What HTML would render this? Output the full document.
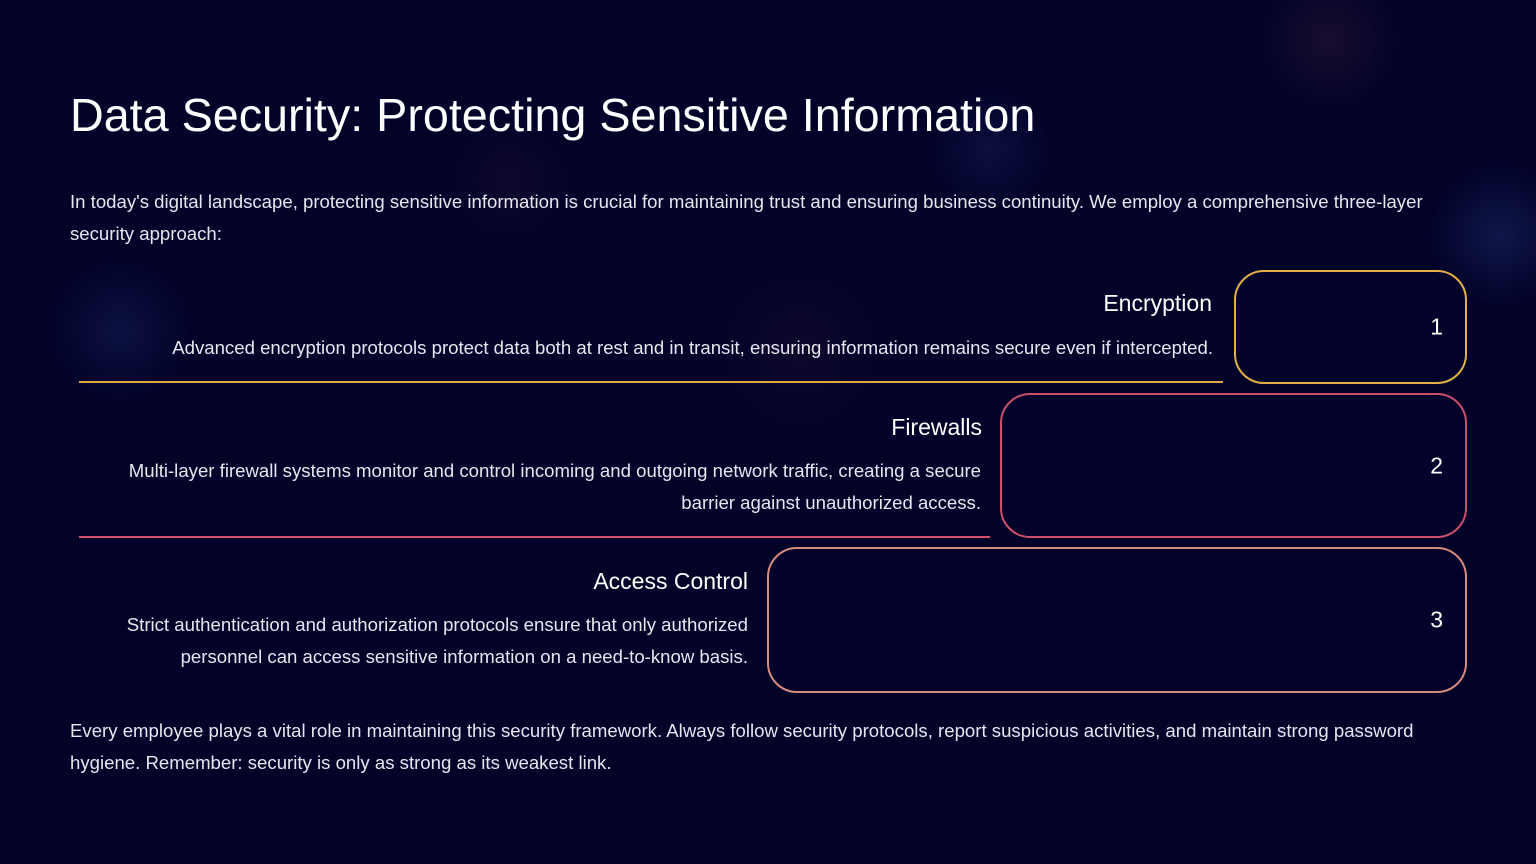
<!DOCTYPE html>
<html><head><meta charset="utf-8"><style>
html,body{margin:0;padding:0}
body{width:1536px;height:864px;position:relative;overflow:hidden;background:#03032a;
background-image:radial-gradient(circle at 990px 150px,rgba(40,50,120,.25),transparent 60px),radial-gradient(circle at 1500px 235px,rgba(40,60,130,.35),transparent 70px),radial-gradient(circle at 120px 330px,rgba(40,60,130,.25),transparent 70px),radial-gradient(circle at 1330px 40px,rgba(120,60,60,.18),transparent 70px),radial-gradient(circle at 800px 350px,rgba(100,40,60,.12),transparent 80px),radial-gradient(circle at 510px 180px,rgba(100,40,60,.12),transparent 60px);
font-family:"Liberation Sans",sans-serif;color:#fff}
.a{position:absolute;white-space:nowrap}
h1{position:absolute;left:70px;top:88px;margin:0;font-weight:normal;font-size:46.7px}
.p{font-size:18.6px;line-height:32px;color:#e6e6f0;letter-spacing:0}
.t{font-size:23px;text-align:right}
.d{font-size:18.6px;line-height:32px;text-align:right;color:#e6e6f0}
.box{position:absolute;box-sizing:border-box;border:2px solid;border-radius:30px;background:#02022a}
.n{position:absolute;right:22px;top:50%;transform:translateY(-50%);font-size:23px}
.ln{position:absolute;height:2px}
</style></head><body>
<h1>Data Security: Protecting Sensitive Information</h1>
<div class="a p" style="left:70px;top:186px">In today's digital landscape, protecting sensitive information is crucial for maintaining trust and ensuring business continuity. We employ a comprehensive three-layer<br>security approach:</div>

<div class="a t" style="right:324px;top:290px">Encryption</div>
<div class="a d" style="right:323px;top:332px">Advanced encryption protocols protect data both at rest and in transit, ensuring information remains secure even if intercepted.</div>
<div class="ln" style="left:79px;top:381px;width:1144px;background:#e0a840;height:1.5px"></div>
<div class="box" style="left:1234px;top:270px;width:233px;height:114px;border-color:#e2b045"><div class="n">1</div></div>

<div class="a t" style="right:554px;top:414px">Firewalls</div>
<div class="a d" style="right:555px;top:455px">Multi-layer firewall systems monitor and control incoming and outgoing network traffic, creating a secure<br>barrier against unauthorized access.</div>
<div class="ln" style="left:79px;top:536px;width:911px;background:#d4506e"></div>
<div class="box" style="left:1000px;top:393px;width:467px;height:145px;border-color:#cc4f6c"><div class="n">2</div></div>

<div class="a t" style="right:788px;top:568px">Access Control</div>
<div class="a d" style="right:788px;top:609px">Strict authentication and authorization protocols ensure that only authorized<br>personnel can access sensitive information on a need-to-know basis.</div>
<div class="box" style="left:767px;top:547px;width:700px;height:146px;border-color:#d88a7e"><div class="n">3</div></div>

<div class="a p" style="left:70px;top:715px">Every employee plays a vital role in maintaining this security framework. Always follow security protocols, report suspicious activities, and maintain strong password<br>hygiene. Remember: security is only as strong as its weakest link.</div>
</body></html>
